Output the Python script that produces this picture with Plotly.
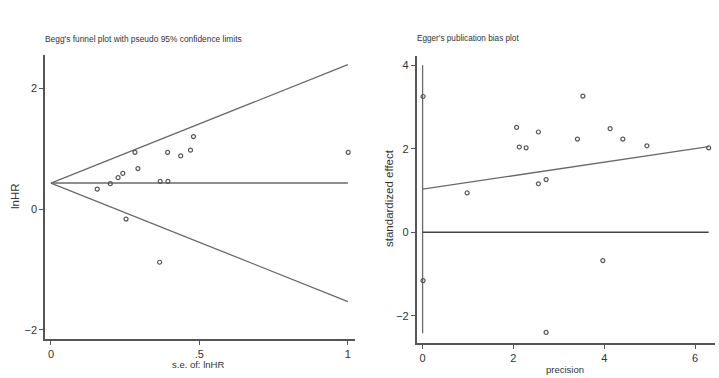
import plotly.graph_objects as go

# ---- Begg's funnel plot data ----
begg_se = [0.156, 0.200, 0.226, 0.242, 0.283, 0.293, 0.368, 0.393, 0.394,
           0.437, 0.470, 0.480, 1.001, 0.253, 0.366]
begg_lnhr = [0.33, 0.42, 0.52, 0.59, 0.94, 0.67, 0.46, 0.94, 0.46,
             0.88, 0.975, 1.20, 0.94, -0.165, -0.88]
funnel_se = [0.0, 1.0]
funnel_pooled = [0.43, 0.43]
funnel_upper = [0.43, 2.39]
funnel_lower = [0.43, -1.53]

# ---- Egger's plot data ----
egger_precision = [0.01, 2.07, 2.13, 2.28, 2.55, 2.55, 2.72, 0.98, 3.41,
                   3.53, 4.13, 4.41, 4.94, 6.30, 0.01, 2.72, 3.97]
egger_effect = [3.25, 2.51, 2.04, 2.02, 2.40, 1.16, 1.26, 0.94, 2.23,
                3.26, 2.48, 2.23, 2.07, 2.02, -1.16, -2.40, -0.68]
reg_x = [0.0, 6.3]
reg_y = [1.03, 2.05]
zero_x = [0.0, 6.3]
zero_y = [0.0, 0.0]
ci_x = [0.0, 0.0]
ci_y = [-2.42, 4.0]

begg_xticks = [0, 0.5, 1]
begg_xticklabels = ["0", ".5", "1"]
begg_yticks = [-2, 0, 2]
egger_xticks = [0, 2, 4, 6]
egger_yticks = [-2, 0, 2, 4]

W, H = 719, 378
FONT = "Liberation Sans Narrow, Arial Narrow, Liberation Sans, Arial, sans-serif"
LINE = "#6a6a6a"
AXC = "#555555"
MK = "#555555"

fig = go.Figure()

# Left panel
fig.add_trace(go.Scatter(x=funnel_se, y=funnel_upper, mode="lines",
                         line=dict(color=LINE, width=1.3), xaxis="x", yaxis="y"))
fig.add_trace(go.Scatter(x=funnel_se, y=funnel_lower, mode="lines",
                         line=dict(color=LINE, width=1.3), xaxis="x", yaxis="y"))
fig.add_trace(go.Scatter(x=funnel_se, y=funnel_pooled, mode="lines",
                         line=dict(color=LINE, width=1.5), xaxis="x", yaxis="y"))
fig.add_trace(go.Scatter(x=begg_se, y=begg_lnhr, mode="markers",
                         marker=dict(symbol="circle-open", size=4, color=MK,
                                     line=dict(width=1.2, color=MK)),
                         xaxis="x", yaxis="y"))

# Right panel
fig.add_trace(go.Scatter(x=ci_x, y=ci_y, mode="lines",
                         line=dict(color=LINE, width=1.3), xaxis="x2", yaxis="y2"))
fig.add_trace(go.Scatter(x=zero_x, y=zero_y, mode="lines",
                         line=dict(color="#444444", width=1.6), xaxis="x2", yaxis="y2"))
fig.add_trace(go.Scatter(x=reg_x, y=reg_y, mode="lines",
                         line=dict(color=LINE, width=1.3), xaxis="x2", yaxis="y2"))
fig.add_trace(go.Scatter(x=egger_precision, y=egger_effect, mode="markers",
                         marker=dict(symbol="circle-open", size=4, color=MK,
                                     line=dict(width=1.2, color=MK)),
                         xaxis="x2", yaxis="y2"))

axis_common = dict(showline=True, linecolor=AXC, linewidth=1.6, showgrid=False,
                   zeroline=False, ticks="outside", ticklen=4, tickcolor=AXC,
                   tickwidth=1.2, tickfont=dict(family=FONT, size=11, color="#333333"),
                   fixedrange=True)

fig.update_layout(
    width=W, height=H,
    margin=dict(l=0, r=0, t=0, b=0),
    paper_bgcolor="white", plot_bgcolor="white",
    showlegend=False,
    xaxis=dict(domain=[45 / W, 355 / W], range=[-0.02, 1.024], anchor="y",
               tickvals=begg_xticks, ticktext=begg_xticklabels, **axis_common),
    yaxis=dict(domain=[1 - 339 / H, 1 - 55 / H], range=[-2.15, 2.55], anchor="x",
               tickvals=begg_yticks, **axis_common),
    xaxis2=dict(domain=[416.7 / W, 715 / W], range=[-0.13, 6.44], anchor="y2",
                tickvals=egger_xticks, **axis_common),
    yaxis2=dict(domain=[1 - 343.3 / H, 1 - 56 / H], range=[-2.66, 4.22], anchor="x2",
                tickvals=egger_yticks, **axis_common),
)

def ann(text, x, y, size, xanchor="center", angle=0, color="#333333"):
    fig.add_annotation(text=text, x=x / W, y=1 - y / H, xref="paper", yref="paper",
                       xanchor=xanchor, yanchor="middle", showarrow=False,
                       textangle=angle, font=dict(family=FONT, size=size, color=color))

ann("Begg's funnel plot with pseudo 95% confidence limits", 43, 39, 8.4, xanchor="left")
ann("Egger's publication bias plot", 415, 39, 8.2, xanchor="left")
ann("lnHR", 15, 196, 11.5, angle=-90)
ann("standardized effect", 389, 198, 11.5, angle=-90)
ann("s.e. of: lnHR", 198, 364, 9.5)
ann("precision", 565, 369, 9.5)

fig.write_html("out.html")
